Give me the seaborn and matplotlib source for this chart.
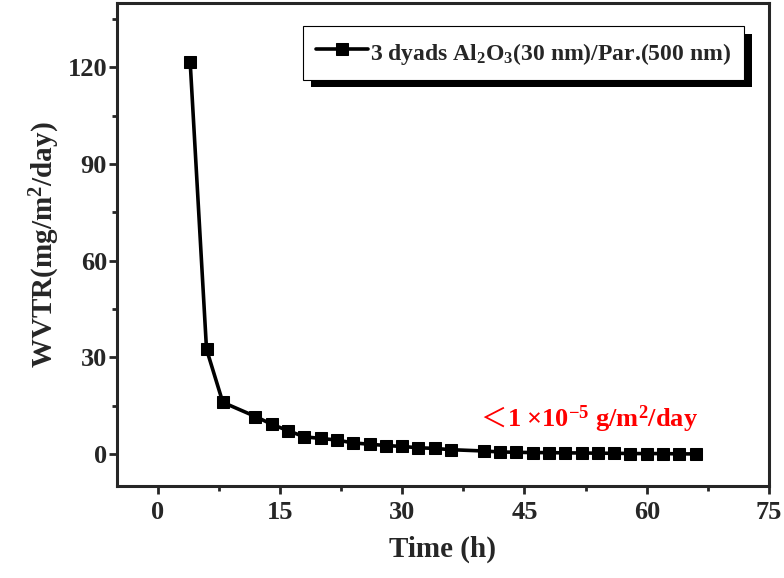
import matplotlib
matplotlib.use("Agg")
import matplotlib.pyplot as plt
import matplotlib.patheffects as pe
from matplotlib.ticker import MultipleLocator
import numpy as np
import pandas as pd
import seaborn as sns

# ===== data =====
time_h = [4, 6, 8, 12, 14, 16, 18, 20, 22, 24, 26, 28, 30, 32, 34, 36,
          40, 42, 44, 46, 48, 50, 52, 54, 56, 58, 60, 62, 64, 66]
wvtr = [121.5, 32.5, 16.0, 11.6, 9.2, 7.2, 5.3, 4.8, 4.3, 3.4, 3.0, 2.6, 2.3, 1.9, 1.7, 1.3,
        0.9, 0.6, 0.5, 0.4, 0.4, 0.3, 0.3, 0.2, 0.2, 0.1, 0.1, 0.1, 0.0, 0.0]
series_label = "3 dyads Al$_2$O$_3$(30 nm)/Par.(500 nm)"
note_text = "1 ×10$^{-5}$ g/m$^{2}$/day"

df = pd.DataFrame({"Time (h)": time_h, "WVTR": wvtr})

# ===== style =====
sns.set_style("ticks")
plt.rcParams['font.family'] = ['Liberation Serif', 'DejaVu Serif']
plt.rcParams['font.weight'] = 'bold'
plt.rcParams['mathtext.default'] = 'regular'
plt.rcParams['axes.linewidth'] = 2.2

fig = plt.figure(figsize=(7.84, 5.78), dpi=100)
ax = fig.add_axes([0.149, 0.159, 0.832, 0.836])

sns.lineplot(data=df, x="Time (h)", y="WVTR", ax=ax, color="black",
             marker="s", markersize=8, markeredgecolor="black",
             linewidth=2.6, label=series_label)

ax.set_xlim(-5, 75)
ax.set_ylim(-10, 140)
ax.xaxis.set_major_locator(MultipleLocator(15))
ax.xaxis.set_minor_locator(MultipleLocator(7.5))
ax.set_yticks([0, 30, 60, 90, 120])
ax.set_yticks([15, 45, 75, 105, 135], minor=True)
ax.tick_params(which="major", direction="out", length=6, width=2, labelsize=19)
ax.tick_params(axis="x", which="major", pad=5)
ax.tick_params(axis="y", which="major", pad=1)
ax.tick_params(which="minor", direction="out", length=3.5, width=2)
for lab in ax.get_xticklabels() + ax.get_yticklabels():
    lab.set_fontweight('bold')

ax.set_xlabel("Time (h)", fontsize=21, fontweight='bold', labelpad=8)
ax.set_ylabel("WVTR(mg/m$^2$/day)", fontsize=21, fontweight='bold', labelpad=4)

leg = ax.legend(loc="upper right", bbox_to_anchor=(0.962, 0.952), borderaxespad=0,
                frameon=True, fancybox=False, handlelength=2.2, handletextpad=0.1,
                handleheight=1.3, borderpad=0.55, prop={'weight': 'bold', 'size': 17})
frame = leg.get_frame()
frame.set_edgecolor("black")
frame.set_linewidth(0.8)
frame.set_alpha(1)
frame.set_path_effects([pe.SimplePatchShadow(offset=(5.5, -5.5), shadow_rgbFace='black', alpha=1),
                        pe.Normal()])

# red annotation
ax.text(39.6, 8.4, "＜", color="red", fontsize=19, fontweight='normal',
        family=['Noto Sans CJK SC', 'DejaVu Sans'], ha='left', va='baseline')
ax.text(42.8, 8.4, note_text, color="red", fontsize=19, fontweight='bold',
        ha='left', va='baseline')

fig.savefig("out.png", dpi=100)
